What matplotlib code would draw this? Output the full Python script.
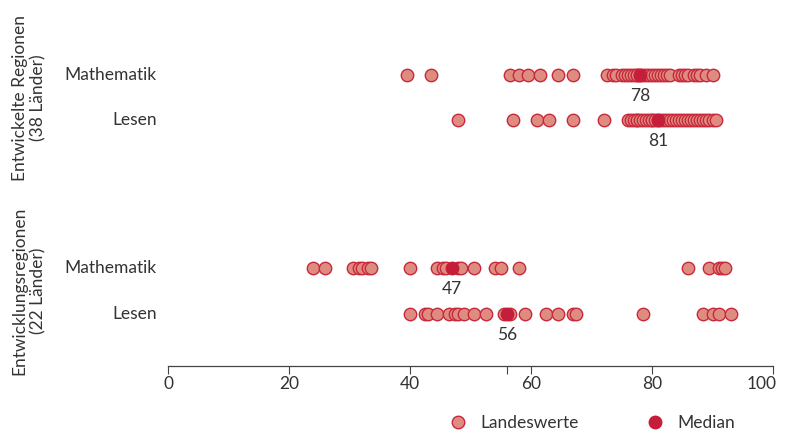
import matplotlib.pyplot as plt
from matplotlib.lines import Line2D
from matplotlib.transforms import offset_copy, ScaledTranslation

plt.rcParams['font.family'] = ['Lato', 'DejaVu Sans']

# Ländereinzelwerte (Anteil in %)
math_entw = [39.5, 43.5, 56.5, 58, 59.5, 61.5, 64.5, 67,
             72.5, 73.5, 74, 75, 75.5, 76, 76.5, 77, 77.5, 77.5, 78,
             78.5, 79, 79.5, 80, 80.5, 81, 81.5, 82, 82.5, 83, 84.5, 85,
             85.5, 86, 87, 87.5, 88, 89, 90]
lesen_entw = [48, 57, 61, 63, 67, 72,
              76, 76.5, 77, 77.5, 77.5, 78, 78.5, 79, 79.5, 80, 80, 80.5, 81,
              81.5, 82, 82.5, 83, 83.5, 84, 84.5, 85, 85.5, 86, 86.5, 87,
              87.5, 88, 88.5, 89, 89.5, 90, 90.5]
math_ewl = [24, 26, 30.5, 31.5, 32, 33, 33.5, 40, 44.5, 45.5, 46,
            48, 48.5, 50.5, 54, 55, 58, 86, 89.5, 91, 91.5, 92]
lesen_ewl = [40, 42.5, 43, 44.5, 46.5, 47.5, 48, 49, 50.5, 52.5, 55.5,
             56.5, 59, 62.5, 64.5, 67, 67.5, 78.5, 88.5, 90, 91, 93]

medians = [78, 81, 47, 56]
row_labels = ['Mathematik', 'Lesen', 'Mathematik', 'Lesen']
group_labels = ['Entwickelte Regionen\n(38 Länder)',
                'Entwicklungsregionen\n(22 Länder)']
series = [math_entw, lesen_entw, math_ewl, lesen_ewl]
row_y = [6.4, 5.4, 2.15, 1.15]
x_ticks = [0, 20, 40, 60, 80, 100]

face = '#DE8C80'
edge = '#C8283C'
med_col = '#C41E3A'
txt = '#333333'
fs = 12.5

fig = plt.figure(figsize=(7.86, 4.34), dpi=100)
ax = fig.add_axes([168 / 786, 0.157, 605 / 786, 0.82])

# Punkte je Zeile, Median obenauf
for vals, y, med, lab in zip(series, row_y, medians, row_labels):
    ax.scatter(vals, [y] * len(vals), s=80, color=face, edgecolors=edge,
               linewidths=1.0, zorder=3)
    ax.scatter([med], [y], s=80, color=med_col, edgecolors=med_col,
               linewidths=1.0, zorder=4)
    ax.annotate(str(med), (med, y), xytext=(0, -21), textcoords='offset pixels',
                ha='center', va='center', fontsize=fs, color=txt)
    ax.text(0, y, lab,
            transform=offset_copy(ax.get_yaxis_transform(), fig=fig, x=-11, units='dots'),
            ha='right', va='center', fontsize=fs, color=txt)

fig.text(29 / 786, 1 - 98 / 434, group_labels[0], rotation=90, ha='center',
         va='center', fontsize=fs, color=txt, linespacing=1.2)
fig.text(29 / 786, 1 - 291 / 434, group_labels[1], rotation=90, ha='center',
         va='center', fontsize=fs, color=txt, linespacing=1.2)

ax.set_xlim(0, 100)
ax.set_ylim(0, 7.82)
ax.set_xticks(x_ticks)
ax.set_xticklabels([str(t) for t in x_ticks])
ax.set_xticks([56], minor=True)
ax.set_yticks([])
for s in ['top', 'right', 'left']:
    ax.spines[s].set_visible(False)
ax.spines['bottom'].set_color('#444444')
ax.spines['bottom'].set_linewidth(0.9)
ax.tick_params(axis='x', which='both', direction='out', length=5.5, width=0.8,
               color='#444444', labelsize=fs, labelcolor=txt, pad=2)

# "100" rechtsbündig, damit es nicht abgeschnitten wird
last = ax.get_xticklabels()[-1]
last.set_ha('right')
last.set_transform(last.get_transform() + ScaledTranslation(4 / 100, 0, fig.dpi_scale_trans))

handles = [
    Line2D([], [], marker='o', ls='', markersize=9, markerfacecolor=face,
           markeredgecolor=edge, label='Landeswerte'),
    Line2D([], [], marker='o', ls='', markersize=9, markerfacecolor=med_col,
           markeredgecolor=med_col, label='Median'),
]
fig.legend(handles=handles, loc='center', bbox_to_anchor=(588 / 786, 1 - 423 / 434),
           ncol=2, frameon=False, fontsize=fs, handletextpad=0.3,
           columnspacing=3.4, labelcolor=txt)

fig.savefig('out.png', dpi=100)
